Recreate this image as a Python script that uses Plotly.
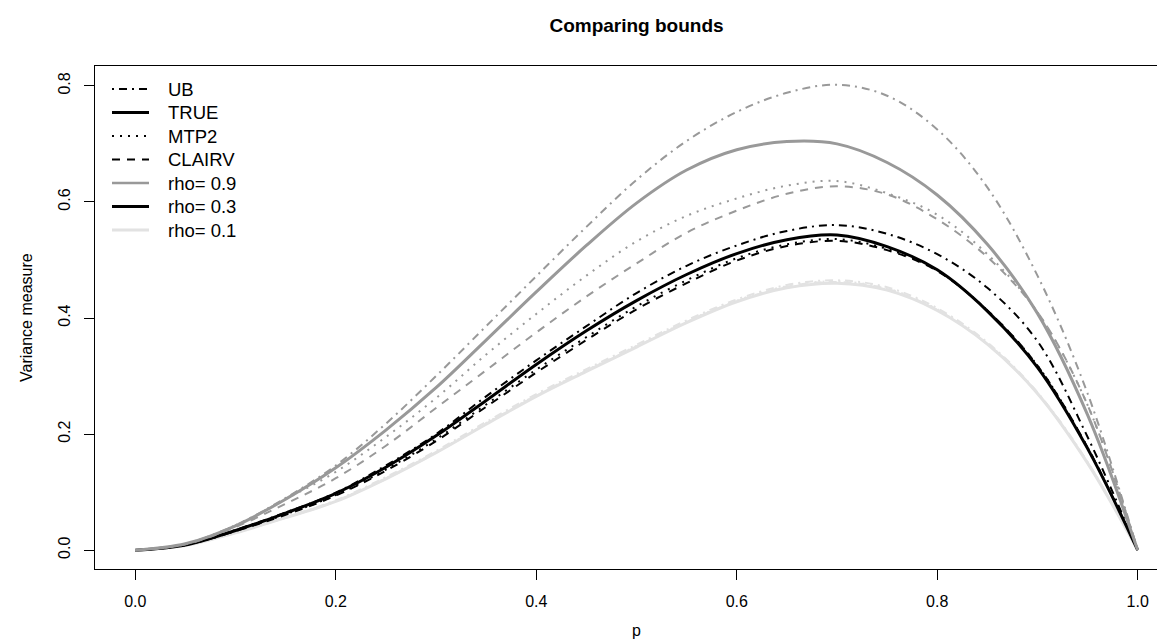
import plotly.graph_objects as go

p = [0, .05, .1, .15, .2, .25, .3, .35, .4, .45, .5, .55, .6, .65, .7, .75, .8, .85, .9, .95, 1.0]

# rho = 0.9
ub_09 = [0, .011, .043, .090, .146, .218, .300, .386, .472, .557, .638, .705, .755, .788, .802, .783, .725, .625, .473, .270, 0]
true_09 = [0, .011, .042, .088, .142, .207, .280, .362, .445, .525, .598, .655, .690, .704, .700, .668, .612, .527, .408, .233, 0]
mtp2_09 = [0, .011, .043, .088, .135, .195, .262, .337, .407, .473, .532, .576, .606, .628, .636, .615, .578, .510, .410, .250, 0]
clairv_09 = [0, .010, .040, .080, .124, .180, .245, .310, .375, .437, .494, .547, .585, .614, .627, .613, .570, .505, .410, .250, 0]

# rho = 0.3
ub_03 = [0, .009, .035, .065, .099, .146, .200, .265, .327, .386, .443, .490, .525, .550, .560, .545, .510, .452, .360, .195, 0]
true_03 = [0, .009, .034, .064, .098, .143, .197, .258, .320, .378, .430, .475, .511, .535, .543, .523, .483, .412, .315, .175, 0]
mtp2_03 = [0, .009, .033, .062, .095, .139, .191, .251, .311, .367, .420, .465, .503, .527, .536, .519, .482, .413, .318, .177, 0]
clairv_03 = [0, .009, .033, .061, .094, .137, .188, .247, .306, .362, .415, .460, .499, .524, .533, .517, .481, .413, .318, .177, 0]

# rho = 0.1
ub_01 = [0, .008, .031, .057, .086, .126, .171, .221, .269, .312, .354, .396, .432, .457, .465, .453, .417, .358, .272, .152, 0]
true_01 = [0, .008, .030, .056, .084, .123, .168, .217, .265, .308, .350, .392, .428, .452, .460, .448, .413, .355, .270, .150, 0]
mtp2_01 = [0, .008, .030, .056, .085, .124, .169, .219, .267, .310, .352, .394, .430, .455, .463, .451, .415, .356, .271, .151, 0]
clairv_01 = [0, .008, .030, .056, .084, .123, .168, .218, .266, .309, .351, .393, .429, .454, .462, .450, .414, .355, .270, .150, 0]

rho_labels = ["rho= 0.9", "rho= 0.3", "rho= 0.1"]
rho_colors = ["#999999", "#000000", "#E2E2E2"]
bound_labels = ["UB", "TRUE", "MTP2", "CLAIRV"]

DASH = {"UB": "2px,5px,8px,5px", "TRUE": "solid", "MTP2": "2px,6px", "CLAIRV": "8px,7px"}
WIDTH = {"UB": 2, "TRUE": 3, "MTP2": 2, "CLAIRV": 2}

series = [
    (rho_colors[0], [ub_09, true_09, mtp2_09, clairv_09]),
    (rho_colors[1], [ub_03, true_03, mtp2_03, clairv_03]),
    (rho_colors[2], [ub_01, true_01, mtp2_01, clairv_01]),
]

fig = go.Figure()

for color, curves in reversed(series):
    for name, vals in zip(bound_labels, curves):
        fig.add_trace(go.Scatter(
            x=p, y=vals, mode="lines", showlegend=False, name=name,
            line=dict(color=color, width=WIDTH[name], dash=DASH[name],
                      shape="spline", smoothing=1.0),
            hoverinfo="skip"))

FONT = "Liberation Sans, Arial, sans-serif"

# plot-area geometry (pixels)
L, R, T, B = 87, 1165, 58, 561
PW, PH = R - L, B - T

def px_x(x):
    return (x - L) / PW

def px_y(y):
    return (B - y) / PH

legend_items = (
    [(n, "black", WIDTH[n], DASH[n]) for n in bound_labels]
    + [(lab, col, w, "solid") for lab, col, w in zip(rho_labels, rho_colors, [2.5, 3, 3])]
)
shapes = []
annotations = []
y0, dy = 81, 23.5
for i, (lab, col, w, d) in enumerate(legend_items):
    yy = y0 + i * dy
    shapes.append(dict(type="line", xref="paper", yref="paper",
                       x0=px_x(104), x1=px_x(141), y0=px_y(yy), y1=px_y(yy),
                       line=dict(color=col, width=w, dash=d)))
    annotations.append(dict(text=lab, xref="paper", yref="paper", x=px_x(158), y=px_y(yy),
                            xanchor="left", yanchor="middle", showarrow=False,
                            font=dict(size=18.5, family=FONT, color="black")))

annotations += [
    dict(text="p", xref="paper", yref="paper", x=px_x((87 + 1170) / 2),
         y=px_y(622), xanchor="center", yanchor="middle", showarrow=False,
         font=dict(size=16, family=FONT, color="black")),
    dict(text="Variance measure", xref="paper", yref="paper", x=px_x(18),
         y=px_y(310), xanchor="center", yanchor="middle", showarrow=False,
         textangle=-90, font=dict(size=16, family=FONT, color="black")),
]

fig.update_layout(
    width=1165, height=642,
    margin=dict(l=L, r=1165 - R, t=T, b=642 - B),
    paper_bgcolor="white", plot_bgcolor="white",
    font=dict(family=FONT, size=16, color="black"),
    title=dict(text="<b>Comparing bounds</b>", x=(87 + 1170) / 2 / 1165, xanchor="center",
               y=1 - 17 / 642, yanchor="middle", yref="container",
               font=dict(size=19, family=FONT, color="black")),
    showlegend=False,
    shapes=shapes,
    annotations=annotations,
    xaxis=dict(range=[-0.0402, 1.0352], tickvals=[0, 0.2, 0.4, 0.6, 0.8, 1.0],
               ticktext=["0.0", "0.2", "0.4", "0.6", "0.8", "1.0"],
               showgrid=False, zeroline=False, showline=True, mirror=True,
               linecolor="black", linewidth=1, ticks="outside", ticklen=10,
               tickcolor="black", ticklabelstandoff=8, tickfont=dict(size=16)),
    yaxis=dict(range=[-0.0324, 0.8342], tickvals=[0, 0.2, 0.4, 0.6, 0.8],
               ticktext=["0.0", "0.2", "0.4", "0.6", "0.8"], tickangle=-90,
               showgrid=False, zeroline=False, showline=True, mirror=False,
               linecolor="black", linewidth=1, ticks="outside", ticklen=10,
               tickcolor="black", ticklabelstandoff=8, tickfont=dict(size=16)),
)

fig.write_html("out.html")
